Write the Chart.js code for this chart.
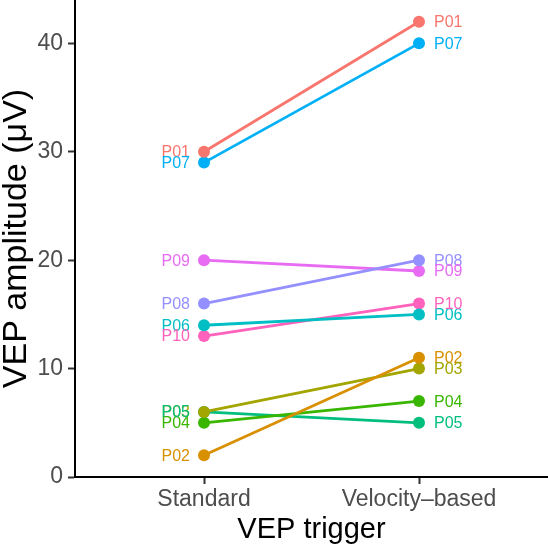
<!DOCTYPE html>
<html>
<head>
<meta charset="utf-8">
<script src="https://cdn.jsdelivr.net/npm/chart.js@4"></script>
<style>
  html, body { margin: 0; padding: 0; background: #ffffff; overflow: hidden; }
  #wrap { width: 548px; height: 547px; }
</style>
</head>
<body>
<div id="wrap"><canvas id="chart"></canvas></div>
<script>
const categories = ["Standard", "Velocity\u2013based"];
const participants = ["P01", "P02", "P03", "P04", "P05", "P06", "P07", "P08", "P09", "P10"];
const standardValues = [30, 2, 6, 5, 6, 14, 29, 16, 20, 13];
const velocityValues = [42, 11, 10, 7, 5, 15, 40, 20, 19, 16];
const colors = ["#F8766D", "#D89000", "#A3A500", "#39B600", "#00BF7D",
	"#00BFC4", "#00B0F6", "#9590FF", "#E76BF3", "#FF62BC"];
const yTicks = [0, 10, 20, 30, 40];

const fontFamily = "'Liberation Sans', Arial, Helvetica, sans-serif";

const datasets = participants.map((p, i) => ({
	label: p,
	data: [
		{ x: 1, y: standardValues[i] },
		{ x: 2, y: velocityValues[i] },
	],
	borderColor: colors[i],
	backgroundColor: colors[i],
	borderWidth: 2.8,
	pointRadius: 6,
	pointBorderWidth: 0,
	showLine: true,
	clip: false,
}));

// text labels next to each point (left of Standard, right of Velocity-based)
const pointLabels = {
	id: "pointLabels",
	afterDatasetsDraw(chart) {
		const ctx = chart.ctx;
		ctx.save();
		ctx.font = `16px ${fontFamily}`;
		ctx.textBaseline = "middle";
		chart.data.datasets.forEach((ds, i) => {
			const meta = chart.getDatasetMeta(i);
			const left = meta.data[0];
			const right = meta.data[1];
			ctx.fillStyle = ds.borderColor;
			ctx.textAlign = "right";
			ctx.fillText(ds.label, left.x - 14, left.y + 1);
			ctx.textAlign = "left";
			ctx.fillText(ds.label, right.x + 15, right.y + 1);
		});
		ctx.restore();
	},
};

new Chart(document.getElementById("chart"), {
	type: "scatter",
	data: { datasets },
	options: {
		responsive: true,
		maintainAspectRatio: false,
		animation: false,
		layout: { padding: 0, autoPadding: false },
		plugins: {
			legend: { display: false },
			tooltip: { enabled: false },
		},
		scales: {
			x: {
				type: "linear",
				min: 0.4,
				max: 2.6,
				afterBuildTicks: (scale) => {
					scale.ticks = [{ value: 1 }, { value: 2 }];
				},
				afterFit: (scale) => {
					scale.height = 70;
					scale.paddingLeft = 0;
					scale.paddingRight = 0;
				},
				ticks: {
					callback: (v) => categories[v - 1],
					color: "#4D4D4D",
					font: { family: fontFamily, size: 23 },
					padding: 2,
				},
				grid: {
					drawOnChartArea: false,
					tickLength: 7,
					tickWidth: 2,
					tickColor: "#333333",
				},
				border: { display: true, color: "#000000", width: 2 },
				title: {
					display: true,
					text: "VEP trigger",
					color: "#000000",
					font: { family: fontFamily, size: 29, lineHeight: 1 },
					padding: { top: 0, bottom: 3 },
				},
			},
			y: {
				type: "linear",
				min: 0,
				max: 44,
				afterBuildTicks: (scale) => {
					scale.ticks = yTicks.map((v) => ({ value: v }));
				},
				afterFit: (scale) => {
					scale.width = 75;
					scale.paddingTop = 0;
					scale.paddingBottom = 0;
				},
				ticks: {
					color: "#4D4D4D",
					font: { family: fontFamily, size: 23 },
					padding: 5,
				},
				grid: {
					drawOnChartArea: false,
					tickLength: 7,
					tickWidth: 2,
					tickColor: "#333333",
				},
				border: { display: true, color: "#000000", width: 2 },
				title: {
					display: true,
					text: "VEP amplitude (\u03bcV)",
					color: "#000000",
					font: { family: fontFamily, size: 34, lineHeight: 1 },
					padding: { top: 0, bottom: 0 },
				},
			},
		},
	},
	plugins: [pointLabels],
});
</script>
</body>
</html>
